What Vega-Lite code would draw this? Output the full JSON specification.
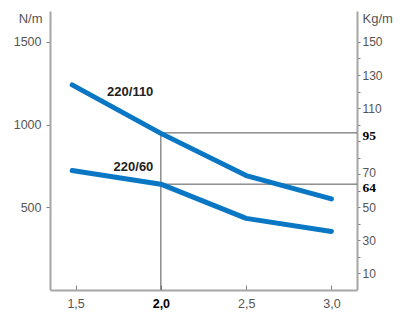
{
  "$schema": "https://vega.github.io/schema/vega-lite/v6.json",
  "width": 307,
  "height": 279,
  "autosize": "none",
  "padding": {"left": 50, "top": 11, "right": 47, "bottom": 31},
  "background": "white",
  "config": {
    "view": {"stroke": null},
    "axis": {
      "grid": false,
      "domainColor": "#a6a6a6",
      "domainWidth": 2,
      "tickColor": "#808080",
      "tickWidth": 1,
      "labelFont": "Liberation Sans",
      "labelFontSize": 12.5,
      "labelColor": "#555555",
      "titleFont": "Liberation Sans",
      "titleFontSize": 13,
      "titleFontWeight": "normal",
      "titleColor": "#555555"
    }
  },
  "datasets": {
    "curves": [
      {"x": 1.48, "nm": 1240, "series": "220/110"},
      {"x": 2.0, "nm": 947, "series": "220/110"},
      {"x": 2.5, "nm": 692, "series": "220/110"},
      {"x": 3.0, "nm": 551, "series": "220/110"},
      {"x": 1.48, "nm": 722, "series": "220/60"},
      {"x": 2.0, "nm": 640, "series": "220/60"},
      {"x": 2.5, "nm": 433, "series": "220/60"},
      {"x": 3.0, "nm": 354, "series": "220/60"}
    ],
    "labels": [
      {"x": 1.956, "nm": 1199, "label": "220/110"},
      {"x": 1.956, "nm": 745, "label": "220/60"}
    ],
    "rules": [
      {"x": 2.0, "x2": 2.0, "k": 0, "k2": 95},
      {"x": 2.0, "x2": 3.15, "k": 95, "k2": 95},
      {"x": 2.0, "x2": 3.15, "k": 64, "k2": 64}
    ]
  },
  "resolve": {"scale": {"y": "independent"}},
  "layer": [
    {
      "data": {"name": "rules"},
      "mark": {"type": "rule", "color": "#555555", "strokeWidth": 1},
      "encoding": {
        "x": {
          "field": "x", "type": "quantitative",
          "scale": {"domain": [1.35, 3.15], "nice": false, "zero": false},
          "axis": {
            "orient": "bottom",
            "values": [1.5, 2.0, 2.5, 3.0],
            "tickSize": -5,
            "labelPadding": 12,
            "labelExpr": "replace(format(datum.value, '.1f'), '.', ',')",
            "labelFontWeight": {"condition": {"test": "datum.value == 2", "value": "bold"}, "value": "normal"},
            "labelColor": {"condition": {"test": "datum.value == 2", "value": "#000000"}, "value": "#555555"},
            "title": null
          }
        },
        "x2": {"field": "x2"},
        "y": {
          "field": "k", "type": "quantitative",
          "scale": {"domain": [0, 168.7], "nice": false},
          "axis": {
            "orient": "right",
            "values": [10, 20, 30, 40, 50, 60, 64, 70, 80, 90, 95, 100, 110, 120, 130, 140, 150],
            "labelExpr": "indexof([10, 30, 50, 64, 70, 95, 110, 130, 150], datum.value) >= 0 ? datum.value + '' : ''",
            "labelOverlap": false,
            "labelBound": false,
            "tickSize": 3,
            "labelPadding": 2,
            "labelOffset": {"condition": [{"test": "datum.value == 64 || datum.value == 95", "value": 3}, {"test": "datum.value == 70", "value": -2}], "value": 0},
            "tickOpacity": {"condition": {"test": "datum.value == 64 || datum.value == 95", "value": 0}, "value": 1},
            "labelFont": {"condition": {"test": "datum.value == 64 || datum.value == 95", "value": "Liberation Serif"}, "value": "Liberation Sans"},
            "labelFontWeight": {"condition": {"test": "datum.value == 64 || datum.value == 95", "value": "bold"}, "value": "normal"},
            "labelFontSize": {"condition": {"test": "datum.value == 64 || datum.value == 95", "value": 13.5}, "value": 12},
            "labelColor": {"condition": {"test": "datum.value == 64 || datum.value == 95", "value": "#000000"}, "value": "#555555"},
            "title": "Kg/m",
            "titleAngle": 0,
            "titleAlign": "left",
            "titleBaseline": "middle",
            "titleX": 5,
            "titleY": 7
          }
        },
        "y2": {"field": "k2"}
      }
    },
    {
      "layer": [
        {
          "data": {"name": "curves"},
          "mark": {"type": "line", "color": "#0a77c4", "strokeWidth": 5, "strokeCap": "round", "strokeJoin": "round"},
          "encoding": {
            "x": {"field": "x", "type": "quantitative"},
            "y": {
              "field": "nm", "type": "quantitative",
              "scale": {"domain": [0, 1687], "nice": false},
              "axis": {
                "orient": "left",
                "values": [500, 1000, 1500],
                "format": "d",
                "tickSize": 4,
                "labelPadding": 5,
                "title": "N/m",
                "titleAngle": 0,
                "titleAlign": "right",
                "titleBaseline": "middle",
                "titleX": -8,
                "titleY": 7
              }
            },
            "detail": {"field": "series", "type": "nominal"}
          }
        },
        {
          "data": {"name": "labels"},
          "mark": {"type": "text", "font": "Liberation Sans", "fontSize": 13, "fontWeight": "bold", "color": "#222222", "align": "right", "baseline": "middle"},
          "encoding": {
            "x": {"field": "x", "type": "quantitative"},
            "y": {"field": "nm", "type": "quantitative"},
            "text": {"field": "label"}
          }
        }
      ]
    }
  ]
}
